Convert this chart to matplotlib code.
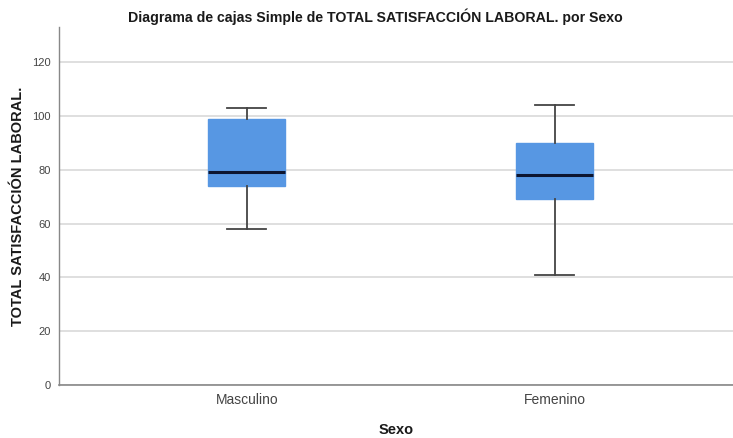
import matplotlib
matplotlib.use("Agg")
import matplotlib.pyplot as plt

categories = ["Masculino", "Femenino"]
whisker_low = [58, 41]
q1 = [74, 69]
median = [79, 78]
q3 = [99, 90]
whisker_high = [103, 104]

fig = plt.figure(figsize=(7.33, 4.38), dpi=100)
ax = fig.add_axes([0.0805, 0.121, 0.92, 0.817])

stats = []
for i, name in enumerate(categories):
    stats.append({
        "label": name,
        "whislo": whisker_low[i],
        "q1": q1[i],
        "med": median[i],
        "q3": q3[i],
        "whishi": whisker_high[i],
        "fliers": [],
    })

ax.bxp(
    stats,
    positions=[0, 1],
    widths=0.25,
    patch_artist=True,
    showfliers=False,
    boxprops=dict(facecolor="#5797e3", edgecolor="#5797e3", linewidth=1.0),
    medianprops=dict(color="#0d1530", linewidth=2.2),
    whiskerprops=dict(color="#444444", linewidth=1.3),
    capprops=dict(color="#444444", linewidth=1.3),
    capwidths=0.126,
    zorder=3,
)

ax.set_xlim(-0.61, 1.58)
ax.set_ylim(0, 133)
ax.set_yticks([0, 20, 40, 60, 80, 100, 120])
ax.yaxis.grid(True, color="#d9d9d9", linewidth=1.2, zorder=0)
ax.set_axisbelow(True)

for side in ["top", "right"]:
    ax.spines[side].set_visible(False)
ax.spines["left"].set_color("#888888")
ax.spines["bottom"].set_color("#888888")
ax.spines["left"].set_linewidth(1.0)
ax.spines["bottom"].set_linewidth(1.2)

ax.tick_params(axis="y", length=0, labelsize=8, labelcolor="#444444", pad=6)
ax.tick_params(axis="x", length=0, labelsize=10, labelcolor="#444444", pad=6)
ax.set_xticks([0, 1])
ax.set_xticklabels(categories)

ax.set_ylabel("TOTAL SATISFACCIÓN LABORAL.", fontsize=10.5, fontweight="bold",
              color="#1a1a1a", labelpad=5, family="Liberation Sans")
ax.set_xlabel("Sexo", fontsize=10.5, fontweight="bold", color="#1a1a1a",
              labelpad=11, family="Liberation Sans")
fig.text(0.512, 0.962, "Diagrama de cajas Simple de TOTAL SATISFACCIÓN LABORAL. por Sexo",
         ha="center", va="center", fontsize=10.2, fontweight="bold",
         color="#1a1a1a", family="Liberation Sans")

for lbl in ax.get_xticklabels() + ax.get_yticklabels():
    lbl.set_family("Liberation Sans")

fig.savefig("out.png", dpi=100, facecolor="white")
